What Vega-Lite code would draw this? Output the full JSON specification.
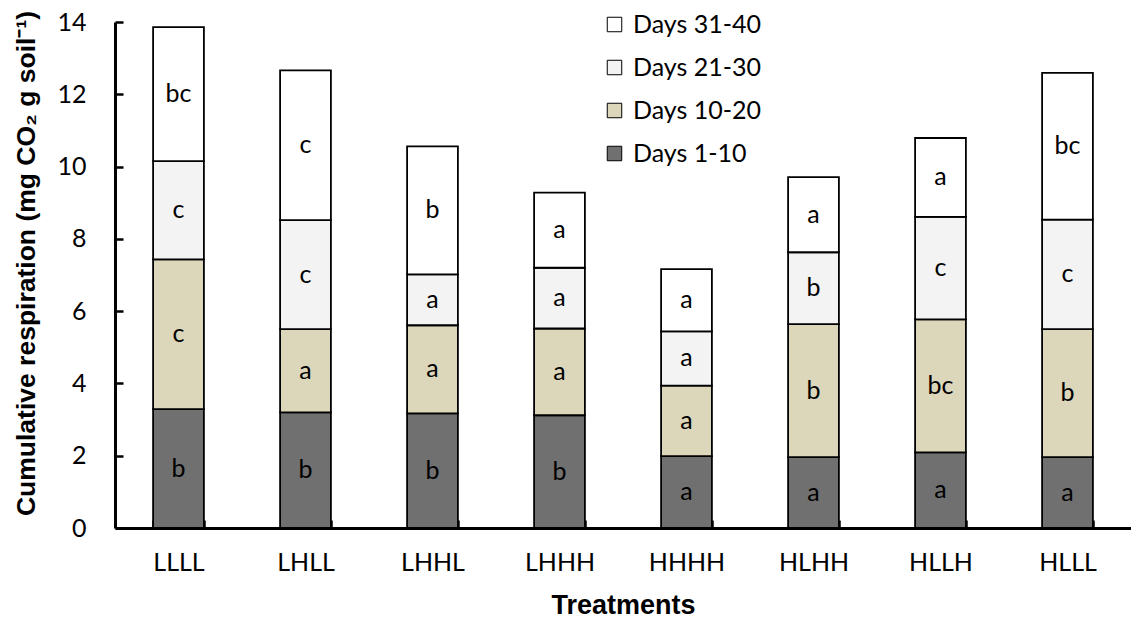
{
  "$schema": "https://vega.github.io/schema/vega-lite/v6.json",
  "width": 1016,
  "height": 506,
  "autosize": {"type": "none"},
  "padding": {"left": 115, "top": 22, "right": 0, "bottom": 94},
  "background": "white",
  "config": {"view": {"stroke": null}, "font": "Lato"},
  "data": {
    "values": [
      {"treatment": "LLLL", "period": "Days 1-10", "value": 3.29, "letter": "b"},
      {"treatment": "LLLL", "period": "Days 10-20", "value": 4.14, "letter": "c"},
      {"treatment": "LLLL", "period": "Days 21-30", "value": 2.72, "letter": "c"},
      {"treatment": "LLLL", "period": "Days 31-40", "value": 3.71, "letter": "bc"},
      {"treatment": "LHLL", "period": "Days 1-10", "value": 3.20, "letter": "b"},
      {"treatment": "LHLL", "period": "Days 10-20", "value": 2.30, "letter": "a"},
      {"treatment": "LHLL", "period": "Days 21-30", "value": 3.02, "letter": "c"},
      {"treatment": "LHLL", "period": "Days 31-40", "value": 4.14, "letter": "c"},
      {"treatment": "LHHL", "period": "Days 1-10", "value": 3.17, "letter": "b"},
      {"treatment": "LHHL", "period": "Days 10-20", "value": 2.44, "letter": "a"},
      {"treatment": "LHHL", "period": "Days 21-30", "value": 1.41, "letter": "a"},
      {"treatment": "LHHL", "period": "Days 31-40", "value": 3.54, "letter": "b"},
      {"treatment": "LHHH", "period": "Days 1-10", "value": 3.12, "letter": "b"},
      {"treatment": "LHHH", "period": "Days 10-20", "value": 2.40, "letter": "a"},
      {"treatment": "LHHH", "period": "Days 21-30", "value": 1.68, "letter": "a"},
      {"treatment": "LHHH", "period": "Days 31-40", "value": 2.08, "letter": "a"},
      {"treatment": "HHHH", "period": "Days 1-10", "value": 1.99, "letter": "a"},
      {"treatment": "HHHH", "period": "Days 10-20", "value": 1.95, "letter": "a"},
      {"treatment": "HHHH", "period": "Days 21-30", "value": 1.50, "letter": "a"},
      {"treatment": "HHHH", "period": "Days 31-40", "value": 1.72, "letter": "a"},
      {"treatment": "HLHH", "period": "Days 1-10", "value": 1.96, "letter": "a"},
      {"treatment": "HLHH", "period": "Days 10-20", "value": 3.68, "letter": "b"},
      {"treatment": "HLHH", "period": "Days 21-30", "value": 1.99, "letter": "b"},
      {"treatment": "HLHH", "period": "Days 31-40", "value": 2.08, "letter": "a"},
      {"treatment": "HLLH", "period": "Days 1-10", "value": 2.09, "letter": "a"},
      {"treatment": "HLLH", "period": "Days 10-20", "value": 3.68, "letter": "bc"},
      {"treatment": "HLLH", "period": "Days 21-30", "value": 2.84, "letter": "c"},
      {"treatment": "HLLH", "period": "Days 31-40", "value": 2.18, "letter": "a"},
      {"treatment": "HLLL", "period": "Days 1-10", "value": 1.96, "letter": "a"},
      {"treatment": "HLLL", "period": "Days 10-20", "value": 3.54, "letter": "b"},
      {"treatment": "HLLL", "period": "Days 21-30", "value": 3.03, "letter": "c"},
      {"treatment": "HLLL", "period": "Days 31-40", "value": 4.06, "letter": "bc"}
    ]
  },
  "transform": [
    {"stack": "value", "groupby": ["treatment"], "sort": [{"field": "period", "order": "ascending"}], "as": ["v0", "v1"]},
    {"calculate": "(datum.v0 + datum.v1) / 2", "as": "mid"}
  ],
  "encoding": {
    "x": {
      "field": "treatment",
      "type": "nominal",
      "sort": ["LLLL", "LHLL", "LHHL", "LHHH", "HHHH", "HLHH", "HLLH", "HLLL"],
      "scale": {"paddingInner": 0.6, "paddingOuter": 0.3},
      "axis": {
        "title": "Treatments",
        "titleFont": "Liberation Sans",
        "titleFontSize": 27,
        "titleFontWeight": "bold",
        "titleColor": "black",
        "titlePadding": 17,
        "labelFont": "Lato",
        "labelFontSize": 25,
        "labelColor": "black",
        "labelAngle": 0,
        "labelPadding": 30,
        "tickSize": -8,
        "tickBand": "extent",
        "tickWidth": 2.5,
        "tickColor": "black",
        "domainColor": "black",
        "domainWidth": 3,
        "grid": false
      }
    }
  },
  "layer": [
    {
      "mark": {"type": "bar", "stroke": "black", "strokeWidth": 1.8},
      "encoding": {
        "y": {
          "field": "v0",
          "type": "quantitative",
          "scale": {"domain": [0, 14]},
          "axis": {
            "values": [0, 2, 4, 6, 8, 10, 12, 14],
            "title": "Cumulative respiration (mg CO₂ g soil⁻¹)",
            "titleFont": "Liberation Sans",
            "titleFontSize": 26.5,
            "titleFontWeight": "bold",
            "titleColor": "black",
            "titleX": -89,
            "titleY": 241,
            "titleAngle": -90,
            "titleBaseline": "middle",
            "titleAlign": "center",
            "labelFont": "Lato",
            "labelFontSize": 25,
            "labelColor": "black",
            "labelPadding": 37,
            "tickSize": -8,
            "tickWidth": 2.5,
            "tickColor": "black",
            "domainColor": "black",
            "domainWidth": 3,
            "grid": false
          }
        },
        "y2": {"field": "v1"},
        "fill": {
          "field": "period",
          "type": "nominal",
          "scale": {
            "domain": ["Days 31-40", "Days 21-30", "Days 10-20", "Days 1-10"],
            "range": ["#ffffff", "#f3f3f3", "#dcd6bb", "#707070"]
          },
          "legend": {
            "orient": "none",
            "legendX": 487,
            "legendY": -10,
            "title": null,
            "symbolType": "square",
            "symbolSize": 210,
            "symbolStrokeColor": "black",
            "symbolStrokeWidth": 1,
            "labelFont": "Lato",
            "labelFontSize": 25,
            "labelColor": "black",
            "labelOffset": 6,
            "rowPadding": 17,
            "padding": 0,
            "encode": {"symbols": {"update": {"stroke": {"value": "black"}, "strokeWidth": {"value": 1}}}}
          }
        }
      }
    },
    {
      "mark": {"type": "text", "fontSize": 25, "font": "Lato", "color": "black"},
      "encoding": {
        "y": {"field": "mid", "type": "quantitative"},
        "text": {"field": "letter"}
      }
    }
  ]
}
